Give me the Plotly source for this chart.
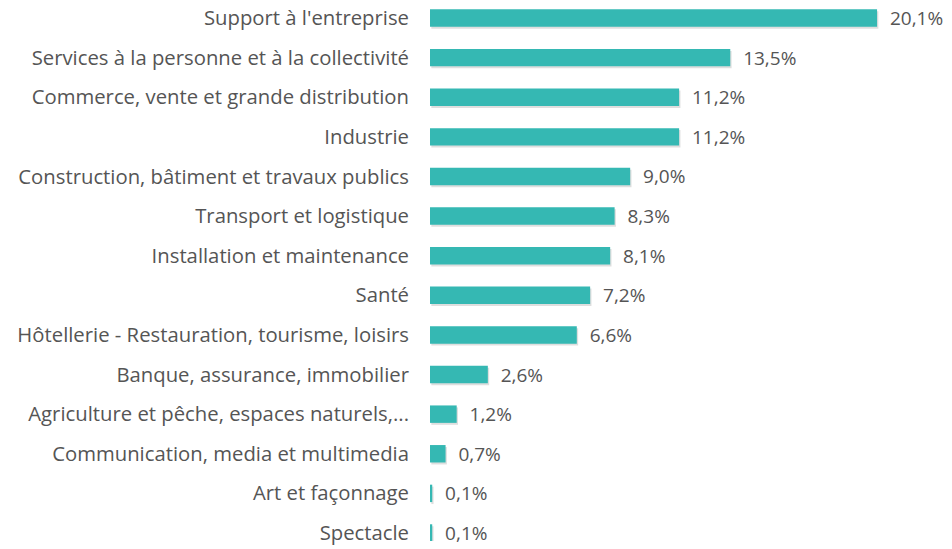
import plotly.graph_objects as go

# Secteurs (de haut en bas) et parts en %
categories = [
    "Support à l'entreprise",
    "Services à la personne et à la collectivité",
    "Commerce, vente et grande distribution",
    "Industrie",
    "Construction, bâtiment et travaux publics",
    "Transport et logistique",
    "Installation et maintenance",
    "Santé",
    "Hôtellerie - Restauration, tourisme, loisirs",
    "Banque, assurance, immobilier",
    "Agriculture et pêche, espaces naturels,...",
    "Communication, media et multimedia",
    "Art et façonnage",
    "Spectacle",
]
values = [20.1, 13.5, 11.2, 11.2, 9.0, 8.3, 8.1, 7.2, 6.6, 2.6, 1.2, 0.7, 0.1, 0.1]

BAR = "#35b8b3"
SHADOW = "rgba(0,0,0,0.13)"
TXT = "#555555"
BAR_W = 0.44

labels = ["  " + f"{v:.1f}%".replace(".", ",") for v in values]

fig = go.Figure()
# soft drop shadow under each bar
fig.add_trace(
    go.Bar(
        y=categories,
        x=values,
        base=0.06,
        orientation="h",
        width=BAR_W,
        offset=-BAR_W / 2 + 0.05,
        marker=dict(color=SHADOW, line=dict(width=0)),
        hoverinfo="skip",
    )
)
fig.add_trace(
    go.Bar(
        y=categories,
        x=values,
        orientation="h",
        width=BAR_W,
        marker=dict(color=BAR, line=dict(width=0)),
        text=labels,
        textposition="outside",
        constraintext="none",
        textfont=dict(color=TXT, size=19),
        cliponaxis=False,
    )
)

# the page body has an 8px margin, so the figure is shifted by 8px
fig.update_layout(
    width=944,
    height=541,
    plot_bgcolor="white",
    paper_bgcolor="white",
    font=dict(family="Open Sans", size=19, color=TXT),
    margin=dict(l=422, r=12, t=0, b=8),
    barmode="overlay",
    showlegend=False,
    xaxis=dict(range=[0, 22.93], visible=False, automargin=False),
    yaxis=dict(
        range=[13.202, -0.2525],
        showgrid=False,
        ticks="",
        automargin=False,
        ticklabelstandoff=20,
        tickfont=dict(size=20.3, color=TXT),
    ),
)

fig.write_html("out.html")
